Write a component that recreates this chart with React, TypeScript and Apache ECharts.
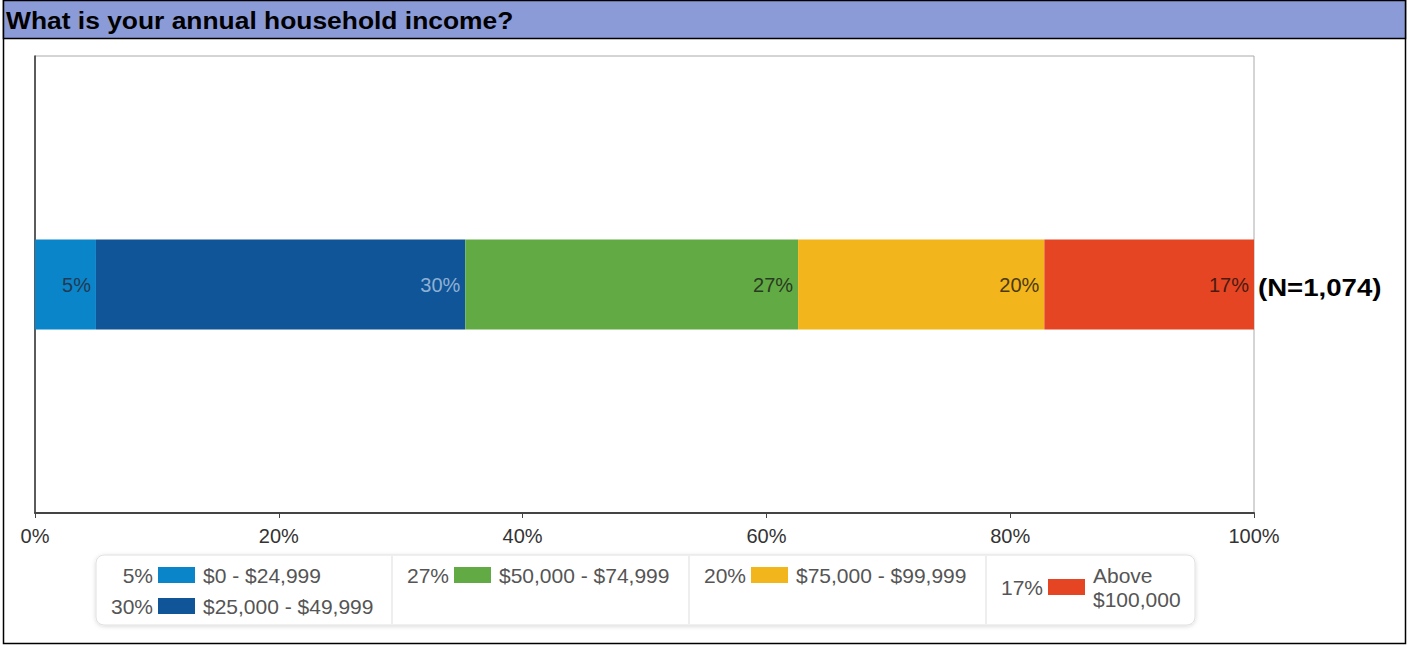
import React, { useEffect, useRef } from "react";
import * as echarts from "echarts";

const title = "What is your annual household income?";
const categories = ["Income"];
const seriesNames = ["$0 - $24,999", "$25,000 - $49,999", "$50,000 - $74,999", "$75,000 - $99,999", "Above $100,000"];
const seriesValues = [5.0, 30.3, 27.3, 20.2, 17.2];
const seriesColors = ["#0b85c9", "#0f5598", "#62ab44", "#f2b51c", "#e64524"];
const labelColors = ["#233a52", "#8fb0d4", "#2a3a22", "#4a3a10", "#4a1a10"];
const xTicks = [0, 20, 40, 60, 80, 100];
const nLabel = "(N=1,074)";

const FONT = "Arial, 'Liberation Sans', sans-serif";

export default function App() {
  const ref = useRef<HTMLDivElement>(null);
  useEffect(() => {
    if (!ref.current) return;
    const chart = echarts.init(ref.current, null, { renderer: "svg" });
    const pct = (v: number) => Math.round(v) + "%";

    const series = seriesNames.map((name, i) => ({
      name,
      type: "bar",
      stack: "total",
      barWidth: 90,
      data: [seriesValues[i]],
      itemStyle: { color: seriesColors[i] },
      label: {
        show: true,
        position: "insideRight",
        distance: 5,
        formatter: (p: any) => pct(p.value),
        color: labelColors[i],
        fontSize: 20,
        fontFamily: FONT,
      },
      emphasis: { disabled: true },
    }));

    const legendTextStyle = { fontSize: 21, fontFamily: FONT, fill: "#555" };
    const cells = [
      { x: 96, items: [{ idx: 0, y: 575 }, { idx: 1, y: 606 }] },
      { x: 392, items: [{ idx: 2, y: 575 }] },
      { x: 689, items: [{ idx: 3, y: 575 }] },
      { x: 986, items: [{ idx: 4, y: 587 }] },
    ];
    const legendEls: any[] = [];
    legendEls.push({
      type: "rect",
      shape: { x: 96, y: 555, width: 1099, height: 70, r: 8 },
      style: { fill: "#fff", stroke: "#e0e0e0", lineWidth: 1, shadowBlur: 4, shadowColor: "rgba(0,0,0,0.15)", shadowOffsetY: 1 },
      z: 10,
    });
    [392, 689, 986].forEach((x) => {
      legendEls.push({ type: "line", shape: { x1: x, y1: 556, x2: x, y2: 624 }, style: { stroke: "#ddd", lineWidth: 1 }, z: 11 });
    });
    cells.forEach((c) => {
      c.items.forEach((it) => {
        const name = seriesNames[it.idx];
        const pctX = c.x + 57;
        legendEls.push({
          type: "text",
          x: pctX,
          y: it.y,
          style: { ...legendTextStyle, text: pct(seriesValues[it.idx]), align: "right", verticalAlign: "middle" },
          z: 12,
        });
        legendEls.push({
          type: "rect",
          shape: { x: pctX + 5, y: it.y - 8, width: 37, height: 16 },
          style: { fill: seriesColors[it.idx] },
          z: 12,
        });
        legendEls.push({
          type: "text",
          x: pctX + 50,
          y: it.y,
          style: {
            ...legendTextStyle,
            text: it.idx === 4 ? "Above\n$100,000" : name,
            align: "left",
            verticalAlign: "middle",
            lineHeight: 24,
          },
          z: 12,
        });
      });
    });

    chart.setOption({
      animation: false,
      backgroundColor: "#fff",
      grid: { left: 35, right: 153, top: 56, bottom: 132, show: true, borderColor: "#aaa", borderWidth: 1, containLabel: false },
      xAxis: {
        type: "value",
        min: 0,
        max: 100,
        interval: 20,
        axisLine: { show: true, lineStyle: { color: "#444", width: 2 } },
        axisTick: { show: true, length: 5, lineStyle: { color: "#444" } },
        splitLine: { show: false },
        axisLabel: {
          formatter: (v: number) => (xTicks.includes(v) ? v + "%" : ""),
          fontSize: 20,
          fontFamily: FONT,
          color: "#333",
          margin: 13,
        },
      },
      yAxis: {
        type: "category",
        data: categories,
        axisLine: { show: true, lineStyle: { color: "#333", width: 1.5 } },
        axisTick: { show: false },
        axisLabel: { show: false },
      },
      series,
      graphic: [
        { type: "rect", shape: { x: 3.5, y: 0.5, width: 1402, height: 643 }, style: { fill: "none", stroke: "#000", lineWidth: 1.5 }, z: 1 },
        { type: "rect", shape: { x: 3.5, y: 0.5, width: 1402, height: 38 }, style: { fill: "#8b9bd8", stroke: "#000", lineWidth: 1.5 }, z: 2 },
        {
          type: "text",
          x: 6,
          y: 20,
          scaleX: 1.1,
          style: { text: title, fontSize: 24, fontWeight: "bold", fontFamily: FONT, fill: "#000", verticalAlign: "middle" },
          z: 3,
        },
        {
          type: "text",
          x: 1258,
          y: 288,
          scaleX: 1.15,
          style: { text: nLabel, fontSize: 24, fontWeight: "bold", fontFamily: FONT, fill: "#000", verticalAlign: "middle" },
          z: 3,
        },
        ...legendEls,
      ],
    });
    return () => chart.dispose();
  }, []);

  return (
    <div
      ref={ref}
      style={{ position: "fixed", left: 0, top: 0, width: 1407, height: 645, background: "#fff" }}
    />
  );
}
